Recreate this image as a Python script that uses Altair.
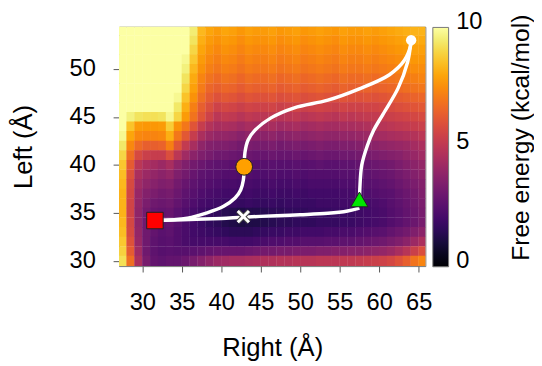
import altair as alt
import pandas as pd

# ---- grid of the free-energy landscape (kcal/mol) ----
x_centers = [27.5, 28.5, 29.5, 30.5, 31.5, 32.5, 33.5, 34.5, 35.5, 36.5,
             37.5, 38.5, 39.5, 40.5, 41.5, 42.5, 43.5, 44.5, 45.5, 46.5,
             47.5, 48.5, 49.5, 50.5, 51.5, 52.5, 53.5, 54.5, 55.5, 56.5,
             57.5, 58.5, 59.5, 60.5, 61.5, 62.5, 63.5, 64.5, 65.5]
y_centers = [54, 53, 52, 51, 50, 49, 48, 47, 46, 45, 44, 43, 42,
             41, 40, 39, 38, 37, 36, 35, 34, 33, 32, 31, 30]

row_54 = [10, 10, 10, 10, 10, 10, 10, 10, 10, 9.5, 8.4, 8.0, 7.8, 8.0, 7.9, 7.7, 7.9, 7.8, 7.8, 7.9, 7.7, 7.8, 7.9, 7.7, 7.8, 7.9, 7.8, 7.7, 7.9, 7.8, 7.8, 7.9, 7.8, 7.9, 8.0, 8.1, 8.2, 8.3, 8.3]
row_53 = [10, 10, 10, 10, 10, 10, 10, 10, 10, 9.3, 8.2, 7.8, 7.6, 7.8, 7.7, 7.5, 7.7, 7.6, 7.6, 7.7, 7.5, 7.6, 7.7, 7.5, 7.6, 7.7, 7.6, 7.5, 7.7, 7.6, 7.6, 7.7, 7.6, 7.7, 7.8, 7.9, 8.0, 8.1, 8.1]
row_52 = [10, 10, 10, 10, 10, 10, 10, 10, 10, 9.0, 8.0, 7.6, 7.4, 7.6, 7.5, 7.3, 7.5, 7.4, 7.4, 7.5, 7.3, 7.4, 7.5, 7.3, 7.4, 7.5, 7.4, 7.3, 7.5, 7.4, 7.4, 7.5, 7.4, 7.5, 7.6, 7.7, 7.8, 7.9, 7.9]
row_51 = [10, 10, 10, 10, 10, 10, 10, 10, 9.8, 8.7, 7.8, 7.4, 7.2, 7.4, 7.3, 7.1, 7.3, 7.2, 7.2, 7.3, 7.1, 7.2, 7.3, 7.1, 7.2, 7.3, 7.2, 7.1, 7.3, 7.2, 7.2, 7.3, 7.2, 7.3, 7.4, 7.5, 7.6, 7.7, 7.7]
row_50 = [10, 10, 10, 10, 10, 10, 10, 10, 9.6, 8.4, 7.6, 7.2, 7.0, 7.2, 7.1, 6.9, 7.1, 7.0, 7.0, 7.1, 6.9, 7.0, 7.1, 6.9, 7.0, 7.1, 7.0, 6.9, 7.1, 7.0, 7.0, 7.1, 7.0, 7.1, 7.2, 7.3, 7.4, 7.5, 7.5]
row_49 = [10, 10, 10, 10, 10, 10, 10, 10, 9.3, 8.1, 7.3, 6.9, 6.7, 6.9, 6.8, 6.6, 6.8, 6.7, 6.7, 6.8, 6.6, 6.7, 6.8, 6.6, 6.7, 6.8, 6.7, 6.6, 6.8, 6.7, 6.7, 6.8, 6.7, 6.8, 6.9, 7.0, 7.1, 7.2, 7.3]
row_48 = [10, 10, 10, 10, 10, 10, 10, 10, 9.0, 7.9, 7.1, 6.6, 6.4, 6.6, 6.5, 6.3, 6.5, 6.4, 6.4, 6.5, 6.3, 6.4, 6.5, 6.3, 6.4, 6.5, 6.4, 6.3, 6.5, 6.4, 6.4, 6.5, 6.4, 6.5, 6.6, 6.7, 6.8, 6.9, 7.0]
row_47 = [10, 10, 10, 10, 10, 10, 10, 9.8, 8.6, 7.6, 6.8, 6.3, 6.0, 6.2, 6.1, 5.9, 6.1, 6.0, 6.0, 6.1, 5.9, 6.0, 6.1, 5.9, 6.0, 6.1, 6.0, 5.9, 6.1, 6.0, 6.0, 6.1, 6.0, 6.1, 6.2, 6.3, 6.4, 6.5, 6.6]
row_46 = [10, 10, 10, 10, 10, 10, 10, 9.4, 8.2, 7.2, 6.4, 5.9, 5.5, 5.7, 5.6, 5.4, 5.6, 5.5, 5.5, 5.6, 5.4, 5.5, 5.6, 5.4, 5.5, 5.6, 5.5, 5.4, 5.6, 5.5, 5.5, 5.6, 5.6, 5.7, 5.8, 5.9, 6.0, 6.1, 6.2]
row_45 = [10, 9.6, 9.3, 9.2, 9.2, 9.3, 9.8, 9.0, 7.8, 6.9, 6.1, 5.5, 5.0, 5.2, 5.1, 4.9, 5.1, 5.0, 5.0, 5.1, 4.9, 5.0, 5.1, 4.9, 5.0, 5.1, 5.0, 4.9, 5.1, 5.0, 5.1, 5.2, 5.2, 5.3, 5.4, 5.5, 5.6, 5.7, 5.8]
row_44 = [10, 8.6, 7.8, 7.7, 7.7, 7.8, 8.8, 7.6, 7.0, 6.1, 5.3, 4.8, 4.5, 4.6, 4.5, 4.3, 4.5, 4.4, 4.4, 4.5, 4.3, 4.4, 4.5, 4.3, 4.4, 4.5, 4.4, 4.4, 4.5, 4.5, 4.6, 4.7, 4.8, 4.9, 5.0, 5.1, 5.2, 5.3, 5.4]
row_43 = [9.8, 8.0, 7.4, 7.3, 7.3, 7.4, 8.2, 7.0, 6.2, 5.3, 4.6, 4.2, 4.0, 4.0, 3.9, 3.7, 3.9, 3.8, 3.8, 3.9, 3.7, 3.8, 3.9, 3.8, 3.9, 4.0, 3.9, 3.9, 4.0, 4.0, 4.1, 4.2, 4.3, 4.4, 4.5, 4.6, 4.7, 4.8, 5.0]
row_42 = [9.4, 7.4, 6.7, 6.4, 6.4, 6.5, 7.2, 6.1, 5.2, 4.5, 3.9, 3.6, 3.5, 3.5, 3.4, 3.2, 3.4, 3.3, 3.3, 3.4, 3.2, 3.3, 3.4, 3.3, 3.4, 3.5, 3.4, 3.4, 3.5, 3.5, 3.6, 3.7, 3.8, 3.9, 4.0, 4.1, 4.2, 4.4, 4.6]
row_41 = [9.0, 6.8, 5.8, 5.4, 5.3, 5.3, 5.9, 5.0, 4.3, 3.8, 3.5, 3.3, 3.1, 3.1, 3.0, 2.9, 3.0, 2.9, 2.9, 3.0, 2.9, 2.9, 3.0, 2.9, 3.0, 3.1, 3.0, 3.0, 3.1, 3.1, 3.2, 3.3, 3.4, 3.5, 3.6, 3.7, 3.9, 4.1, 4.3]
row_40 = [8.7, 6.3, 5.0, 4.6, 4.4, 4.2, 4.5, 3.9, 3.5, 3.2, 3.0, 2.8, 2.7, 2.7, 2.6, 2.5, 2.6, 2.5, 2.5, 2.6, 2.5, 2.5, 2.6, 2.5, 2.6, 2.7, 2.6, 2.6, 2.7, 2.7, 2.8, 2.9, 3.0, 3.1, 3.2, 3.4, 3.6, 3.8, 4.0]
row_39 = [8.5, 6.0, 4.6, 4.2, 4.0, 3.8, 4.0, 3.5, 3.2, 2.9, 2.7, 2.6, 2.5, 2.4, 2.4, 2.3, 2.4, 2.3, 2.3, 2.4, 2.3, 2.3, 2.4, 2.3, 2.4, 2.4, 2.4, 2.4, 2.5, 2.5, 2.6, 2.7, 2.8, 2.9, 3.0, 3.2, 3.4, 3.6, 3.8]
row_38 = [8.4, 5.8, 4.3, 3.9, 3.7, 3.5, 3.6, 3.2, 2.9, 2.7, 2.5, 2.4, 2.3, 2.2, 2.2, 2.1, 2.2, 2.1, 2.1, 2.2, 2.1, 2.1, 2.2, 2.1, 2.2, 2.2, 2.2, 2.2, 2.3, 2.3, 2.4, 2.5, 2.6, 2.7, 2.8, 3.0, 3.2, 3.4, 3.6]
row_37 = [8.3, 5.7, 4.1, 3.6, 3.4, 3.2, 3.3, 3.0, 2.7, 2.5, 2.3, 2.2, 2.1, 2.0, 2.0, 1.9, 2.0, 1.9, 1.9, 2.0, 1.9, 1.9, 2.0, 1.9, 2.0, 2.0, 2.0, 2.0, 2.1, 2.1, 2.2, 2.3, 2.4, 2.5, 2.6, 2.8, 3.0, 3.2, 3.5]
row_36 = [8.3, 5.6, 4.0, 3.4, 3.1, 3.0, 3.1, 2.8, 2.5, 2.3, 2.1, 2.0, 1.9, 1.8, 1.8, 1.7, 1.8, 1.7, 1.7, 1.8, 1.7, 1.8, 1.8, 1.8, 1.8, 1.9, 1.9, 1.9, 2.0, 2.0, 2.0, 2.1, 2.2, 2.3, 2.5, 2.7, 2.9, 3.1, 3.4]
row_35 = [8.3, 5.6, 3.9, 3.2, 2.9, 2.8, 2.9, 2.6, 2.3, 2.1, 1.9, 1.7, 1.6, 1.4, 1.3, 1.2, 1.3, 1.3, 1.4, 1.5, 1.5, 1.6, 1.6, 1.6, 1.7, 1.7, 1.7, 1.8, 1.8, 1.8, 1.9, 2.0, 2.1, 2.2, 2.4, 2.6, 2.8, 3.0, 3.3]
row_34 = [8.4, 5.7, 3.9, 3.1, 2.8, 2.7, 2.8, 2.5, 2.2, 2.0, 1.8, 1.6, 1.5, 1.3, 1.2, 1.1, 1.2, 1.2, 1.3, 1.4, 1.5, 1.5, 1.6, 1.6, 1.6, 1.7, 1.7, 1.7, 1.8, 1.8, 1.9, 2.0, 2.1, 2.2, 2.4, 2.6, 2.8, 3.0, 3.3]
row_33 = [8.5, 5.8, 4.0, 3.1, 2.8, 2.6, 2.7, 2.4, 2.2, 2.0, 1.9, 1.8, 1.7, 1.6, 1.5, 1.5, 1.5, 1.6, 1.7, 1.8, 1.8, 1.9, 1.9, 2.0, 2.0, 2.0, 2.1, 2.1, 2.2, 2.2, 2.3, 2.4, 2.5, 2.6, 2.8, 3.0, 3.2, 3.5, 3.8]
row_32 = [8.7, 6.0, 4.1, 3.1, 2.7, 2.5, 2.6, 2.4, 2.2, 2.1, 2.1, 2.1, 2.1, 2.1, 2.0, 2.0, 2.0, 2.1, 2.2, 2.3, 2.3, 2.4, 2.4, 2.5, 2.5, 2.5, 2.6, 2.6, 2.7, 2.7, 2.8, 2.9, 3.0, 3.1, 3.3, 3.5, 3.8, 4.2, 4.6]
row_31 = [8.9, 6.3, 4.3, 3.1, 2.7, 2.5, 2.6, 2.5, 2.5, 2.6, 2.7, 2.8, 2.9, 2.9, 2.9, 2.9, 3.0, 3.1, 3.2, 3.2, 3.3, 3.3, 3.4, 3.4, 3.4, 3.5, 3.5, 3.6, 3.6, 3.7, 3.7, 3.8, 3.9, 4.0, 4.2, 4.5, 4.9, 5.4, 5.9]
row_30 = [9.2, 6.8, 4.6, 3.3, 2.8, 2.7, 2.8, 2.8, 3.0, 3.3, 3.6, 3.9, 4.2, 4.3, 4.4, 4.4, 4.5, 4.6, 4.7, 4.7, 4.8, 4.8, 4.9, 4.9, 4.9, 5.0, 5.0, 5.0, 5.1, 5.1, 5.2, 5.3, 5.4, 5.5, 5.7, 6.0, 6.4, 6.9, 7.3]

rows = [row_54, row_53, row_52, row_51, row_50, row_49, row_48, row_47, row_46,
        row_45, row_44, row_43, row_42, row_41, row_40, row_39, row_38, row_37,
        row_36, row_35, row_34, row_33, row_32, row_31, row_30]

# ---- minimum free energy paths ----
path_a_x = [31.6, 36.0, 40.0, 42.8, 47.0, 50.0, 53.5, 56.0, 57.5]
path_a_y = [34.2, 34.3, 34.42, 34.55, 34.7, 34.8, 34.95, 35.2, 35.5]
path_b_x = [31.6, 35.7, 38.2, 40.3, 41.75, 42.46, 42.8, 42.9, 43.0, 43.4, 44.25,
            46.3, 49.25, 53.5, 57.4, 61.3, 63.2, 64.0, 64.05]
path_b_y = [34.2, 34.45, 35.0, 35.68, 36.54, 37.39, 38.42, 39.8, 41.3, 42.6, 43.6,
            44.9, 45.95, 46.75, 47.9, 49.4, 50.9, 52.5, 53.0]
path_c_x = [57.5, 57.55, 57.8, 58.5, 59.3, 60.5, 62.4, 63.6, 64.0, 64.05]
path_c_y = [36.0, 37.5, 40.0, 42.0, 43.6, 45.3, 48.0, 50.7, 52.6, 53.0]

# ---- states marked on the paths ----
marker_names = ["square", "cross", "triangle", "orange", "top"]
marker_x = [31.6, 42.8, 57.5, 42.9, 64.05]
marker_y = [34.2, 34.6, 36.4, 39.8, 53.0]

x_ticks = [30, 35, 40, 45, 50, 55, 60, 65]
y_ticks = [30, 35, 40, 45, 50]
fe_ticks = [0, 5, 10]
fe_title = ["Free energy (kcal/mol)"]

# ---- tables (cells overlap very slightly so no seams show) ----
HALF = 0.52
recs = []
for yc, row in zip(y_centers, rows):
    assert len(row) == len(x_centers)
    for xc, v in zip(x_centers, row):
        y0 = yc - HALF if yc > 30 else 29.0
        y1 = yc + HALF if yc < 54 else 55.0
        recs.append({"x0": xc - HALF, "x1": xc + HALF, "y0": y0, "y1": y1, "fe": v})
heat_df = pd.DataFrame(recs)

prec = []
for name, xs, ys in [("a", path_a_x, path_a_y), ("b", path_b_x, path_b_y), ("c", path_c_x, path_c_y)]:
    for i, (px, py) in enumerate(zip(xs, ys)):
        prec.append({"path": name, "i": i, "px": px, "py": py})
path_df = pd.DataFrame(prec)

mk_df = pd.DataFrame({"name": marker_names, "mx": marker_x, "my": marker_y})

FONT = "Liberation Sans"
X_TITLE = "Right (Å)"
Y_TITLE = "Left (Å)"

xscale = alt.Scale(domain=[27.05, 65.85], nice=False, zero=False)
yscale = alt.Scale(domain=[29.45, 54.4], nice=False, zero=False)

xaxis = alt.Axis(values=x_ticks, title=X_TITLE, labelPadding=19, titlePadding=21)
yaxis = alt.Axis(values=y_ticks, title=Y_TITLE, labelPadding=18, titlePadding=33)

legend = alt.Legend(
    type="gradient",
    orient="none", legendX=318.6, legendY=0.7, direction="vertical",
    gradientLength=243, gradientThickness=16, values=fe_ticks,
    labelExpr="''", labelFontSize=24, title=None,
    gradientStrokeColor="#777", gradientStrokeWidth=1, padding=0,
)

heat = alt.Chart(heat_df).mark_rect(clip=True).encode(
    x=alt.X("x0:Q", scale=xscale, axis=xaxis),
    x2="x1:Q",
    y=alt.Y("y0:Q", scale=yscale, axis=yaxis),
    y2="y1:Q",
    color=alt.Color("fe:Q", scale=alt.Scale(scheme="inferno", domain=[0, 10], clamp=True), legend=legend),
)

lines = alt.Chart(path_df).mark_line(color="white", strokeWidth=3.5, interpolate="catmull-rom", clip=True).encode(
    x=alt.X("px:Q", scale=xscale, title=X_TITLE),
    y=alt.Y("py:Q", scale=yscale, axis=None),
    detail="path:N",
    order="i:Q",
)

def marker(name, **mark_kw):
    return alt.Chart(mk_df).transform_filter(alt.datum.name == name).mark_point(**mark_kw).encode(
        x=alt.X("mx:Q", scale=xscale, title=X_TITLE),
        y=alt.Y("my:Q", scale=yscale, axis=None),
    )

XPATH = "M-1,-1L1,1M-1,1L1,-1"
sq = marker("square", shape="square", size=280, filled=True, fill="#ff0000", stroke="#222", strokeWidth=1, opacity=1)
org = marker("orange", shape="circle", size=290, filled=True, fill="#ffa000", stroke="#222", strokeWidth=1, opacity=1)
tri = marker("triangle", shape="triangle-up", size=300, filled=True, fill="#00e600", stroke="#222", strokeWidth=1, opacity=1)
xbg = marker("cross", shape=XPATH, size=130, filled=False, stroke="#444", strokeWidth=5, opacity=1)
xfg = marker("cross", shape=XPATH, size=130, filled=False, stroke="white", strokeWidth=3, opacity=1)
top = marker("top", shape="circle", size=110, filled=True, fill="white", stroke="white", strokeWidth=0, opacity=1)

# colour-bar tick labels, placed on their own 0-10 scale beside the gradient
cb_labels = alt.Chart(pd.DataFrame({"v": fe_ticks})).mark_text(
    font=FONT, fontSize=24, color="black", align="left", baseline="alphabetic"
).encode(
    x=alt.value(342.3),
    y=alt.Y("v:Q", scale=alt.Scale(domain=[0, 10], range=[245.3, 2.8], nice=False, zero=False), axis=None),
    text="v:Q",
)

cb_title = alt.Chart(pd.DataFrame({"t": fe_title})).mark_text(
    angle=270, font=FONT, fontSize=25, color="black", align="center", baseline="middle"
).encode(x=alt.value(408), y=alt.value(112.7), text="t:N")

chart = alt.layer(heat, lines, sq, org, tri, xbg, xfg, top, cb_labels, cb_title).resolve_scale(
    y="independent"
).properties(
    width=311, height=243,
    padding={"left": 112.7, "top": 16.3, "right": 110.3, "bottom": 98.7},
    autosize=alt.AutoSizeParams(type="none"),
).configure_view(
    stroke="#777", strokeWidth=1
).configure_axis(
    labelFont=FONT, titleFont=FONT, labelFontSize=24, titleFontSize=26,
    titleFontWeight="normal", labelColor="black", titleColor="black",
    tickColor="#555", tickSize=6, tickWidth=1, domain=False, grid=False,
)

chart.save("out.html", embed_options={"renderer": "svg", "actions": False})
